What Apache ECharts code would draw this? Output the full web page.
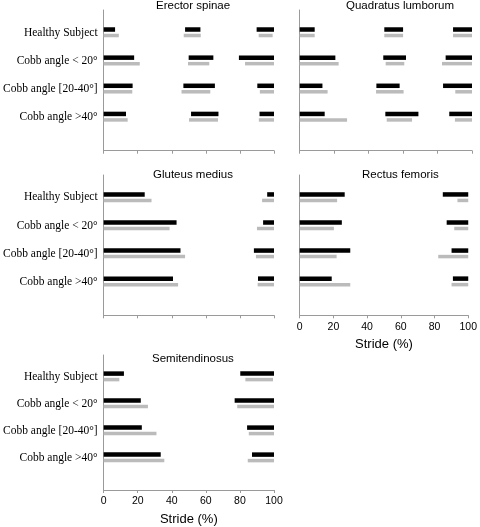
<!DOCTYPE html>
<html>
<head>
<meta charset="utf-8">
<script src="https://cdn.jsdelivr.net/npm/echarts@6/dist/echarts.min.js"></script>
<style>html,body{margin:0;padding:0;background:#fff;}#c{width:480px;height:527px;}</style>
</head>
<body>
<div id="c"></div>
<script>
// ---- data ----
const categories = ['Healthy Subject', 'Cobb angle < 20°', 'Cobb angle [20-40°]', 'Cobb angle >40°'];
const muscles = ['Erector spinae', 'Quadratus lumborum', 'Gluteus medius', 'Rectus femoris', 'Semitendinosus'];
const xTicks = [0, 20, 40, 60, 80, 100];

// activation intervals [start, end] in % of stride, per category
const erectorBlack = [
  [[0, 6.7], [47.8, 56.8], [89.8, 100]],
  [[0, 17.9], [49.9, 64.4], [79.4, 100]],
  [[0, 17], [46.8, 65.3], [90.2, 100]],
  [[0, 13.1], [51.3, 67.4], [91.5, 100]]
];
const erectorGray = [
  [[0, 8.9], [47, 57], [91, 99.2]],
  [[0, 21.2], [49.5, 62], [83, 100]],
  [[0, 16.8], [45.7, 62.6], [91.7, 100]],
  [[0, 14.1], [50.1, 67.1], [91.1, 100]]
];
const quadratusBlack = [
  [[0, 8.7], [49.1, 60], [89, 100]],
  [[0, 20.7], [48.5, 61.7], [84.7, 100]],
  [[0, 13.2], [44.5, 58], [83.2, 100]],
  [[0, 14.5], [49.7, 68.9], [86.8, 100]]
];
const quadratusGray = [
  [[0, 8.7], [49.1, 60], [89, 100]],
  [[0, 22.6], [49.9, 60.7], [82.6, 100]],
  [[0, 16.2], [44.3, 60.3], [90.3, 100]],
  [[0, 27.5], [50.5, 65.2], [90.1, 100]]
];
const gluteusBlack = [
  [[0, 24.1], [96, 100]],
  [[0, 42.8], [93.6, 100]],
  [[0, 45.1], [88.2, 100]],
  [[0, 40.7], [90.6, 100]]
];
const gluteusGray = [
  [[0, 28.1], [93, 100]],
  [[0, 38.7], [90, 100]],
  [[0, 47.8], [89.4, 100]],
  [[0, 43.7], [90.4, 100]]
];
const rectusBlack = [
  [[0, 26.7], [84.9, 100]],
  [[0, 25], [87.2, 100]],
  [[0, 30], [90.1, 100]],
  [[0, 19], [90.9, 100]]
];
const rectusGray = [
  [[0, 22.2], [93.6, 100]],
  [[0, 20.3], [91.7, 100]],
  [[0, 21.9], [82.2, 100]],
  [[0, 30], [90.1, 100]]
];
const semiBlack = [
  [[0, 11.9], [80.2, 100]],
  [[0, 21.8], [76.9, 100]],
  [[0, 22.4], [84.2, 100]],
  [[0, 33.5], [87.1, 100]]
];
const semiGray = [
  [[0, 9.2], [83.2, 99.4]],
  [[0, 26], [78.4, 100]],
  [[0, 31], [85.2, 100]],
  [[0, 35.6], [84.6, 100]]
];

const blackSets = [erectorBlack, quadratusBlack, gluteusBlack, rectusBlack, semiBlack];
const graySets = [erectorGray, quadratusGray, gluteusGray, rectusGray, semiGray];

// ---- layout ----
const grids = [
  {left: 101, top: 10, width: 173, height: 140.7},
  {left: 299.7, top: 10, width: 172.3, height: 140.7},
  {left: 101, top: 175, width: 173, height: 140.3},
  {left: 299.7, top: 175, width: 172.3, height: 140.3},
  {left: 101, top: 355, width: 173, height: 139}
];
const titlePos = [
  {left: 156, top: 0}, {left: 346, top: 0},
  {left: 153, top: 169}, {left: 362, top: 169},
  {left: 152, top: 353}
];
const showYLabels = [true, false, true, false, true];
const showXLabels = [false, false, false, true, true];

function toData(sets) {
  const out = [];
  sets.forEach((ints, k) => ints.forEach(iv => out.push([k, iv[0], iv[1]])));
  return out;
}

function makeRender(offset, h) {
  return function (params, api) {
    const k = api.value(0);
    const p0 = api.coord([api.value(1), k]);
    const p1 = api.coord([api.value(2), k]);
    return {
      type: 'rect',
      shape: {x: p0[0], y: p0[1] + offset - h / 2, width: p1[0] - p0[0], height: h},
      style: {fill: api.visual('color')}
    };
  };
}

const axisColor = '#9a9a9a';
const option = {
  animation: false,
  backgroundColor: '#fff',
  title: muscles.map((m, i) => ({
    text: m, left: titlePos[i].left, top: titlePos[i].top, padding: 0,
    textStyle: {fontFamily: 'Liberation Sans', fontSize: 11.5, fontWeight: 'normal', color: '#000'}
  })),
  grid: grids,
  xAxis: grids.map((g, i) => ({
    type: 'value', gridIndex: i, min: 0, max: 100, interval: 20, position: 'bottom',
    name: showXLabels[i] ? 'Stride (%)' : '', nameLocation: 'middle', nameGap: 23,
    nameTextStyle: {fontFamily: 'Liberation Sans', fontSize: 13, color: '#000'},
    axisLine: {show: true, onZero: false, lineStyle: {color: axisColor, width: 1}},
    axisTick: {show: true, length: 3, inside: false, lineStyle: {color: axisColor}},
    axisLabel: {show: showXLabels[i], margin: 6, fontFamily: 'Liberation Sans', fontSize: 10.5, color: '#000'},
    splitLine: {show: false}
  })),
  yAxis: grids.map((g, i) => ({
    type: 'value', gridIndex: i, inverse: true, min: -0.8, max: 4.2, interval: 0.2, position: 'left',
    axisLine: {show: true, onZero: false, lineStyle: {color: axisColor, width: 1}},
    axisTick: {show: false},
    splitLine: {show: false},
    axisLabel: {
      show: showYLabels[i], margin: 6, fontFamily: 'Liberation Serif', fontSize: 11.5, color: '#000',
      formatter: function (v) {
        const r = Math.round(v);
        if (Math.abs(v - r) < 1e-6 && r >= 0 && r < categories.length) return categories[r];
        return '';
      }
    }
  })),
  series: []
};

for (let i = 0; i < 5; i++) {
  option.series.push({
    name: 'Black', type: 'custom', xAxisIndex: i, yAxisIndex: i, color: '#000',
    renderItem: makeRender(-3, 4.5), encode: {x: [1, 2], y: 0}, data: toData(blackSets[i])
  });
  option.series.push({
    name: 'Gray', type: 'custom', xAxisIndex: i, yAxisIndex: i, color: '#bbbbbb',
    renderItem: makeRender(3, 3.5), encode: {x: [1, 2], y: 0}, data: toData(graySets[i])
  });
}

const chart = echarts.init(document.getElementById('c'), null, {renderer: 'canvas'});
chart.setOption(option);
</script>
</body>
</html>
